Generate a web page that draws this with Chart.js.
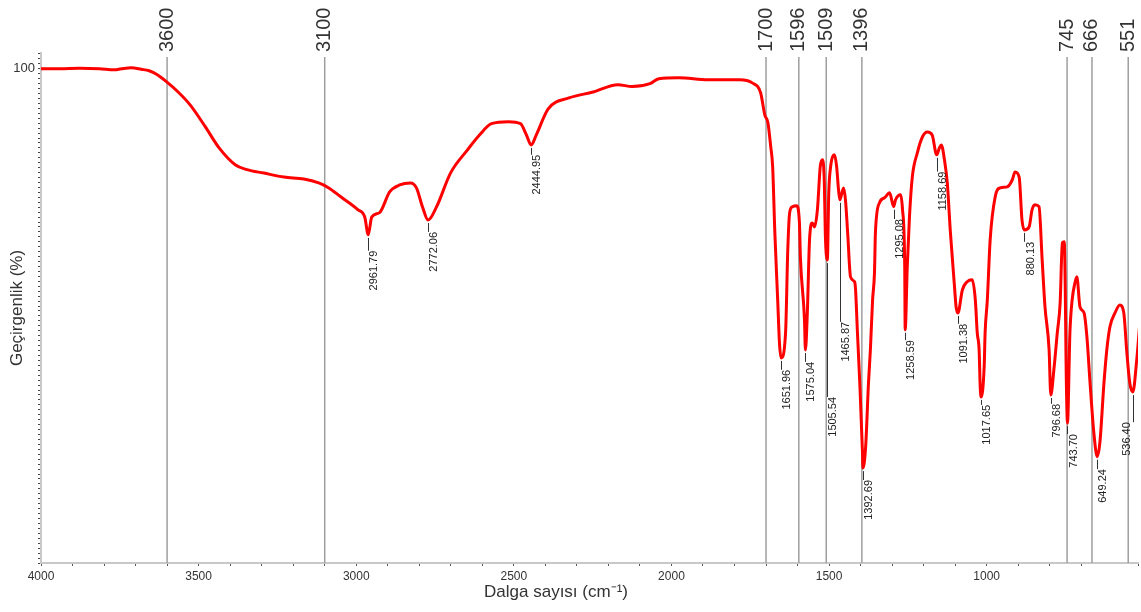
<!DOCTYPE html>
<html>
<head>
<meta charset="utf-8">
<script src="https://cdn.jsdelivr.net/npm/chart.js@4/dist/chart.umd.min.js"></script>
<style>
  html, body { margin: 0; padding: 0; background: #fff; }
  #wrap { width: 1141px; height: 612px; }
</style>
</head>
<body>
<div id="wrap"><canvas id="myChart"></canvas></div>
<script>
// FTIR spectrum, wavenumber (cm-1) vs transmittance (%)
const waveNum = [
  4000, 3941, 3878, 3815, 3767, 3745, 3714, 3682, 3657, 3631,
  3606, 3565, 3527, 3479, 3435, 3384, 3347, 3293, 3229, 3166,
  3119, 3087, 3049, 2995, 2973, 2961.79, 2951, 2926, 2894, 2862,
  2828, 2809, 2790, 2772.06, 2745, 2701, 2647, 2609, 2571, 2517,
  2479, 2460, 2444.95, 2429, 2391, 2325, 2249, 2170, 2125, 2068,
  2040, 1977, 1884, 1783, 1745, 1717, 1704, 1694, 1685, 1679,
  1672, 1663, 1657, 1651.96, 1638, 1631, 1625, 1616, 1603, 1594,
  1591, 1578, 1575.04, 1569, 1562, 1553, 1546, 1537, 1528, 1521,
  1515, 1512, 1505.54, 1501, 1495, 1483, 1476, 1470, 1465.87, 1454,
  1448, 1441, 1432, 1419, 1416, 1410, 1403, 1394, 1392.69, 1384,
  1375, 1369, 1362, 1356, 1353, 1340, 1324, 1308, 1295.08, 1289,
  1273, 1267, 1260, 1258.59, 1252, 1245, 1236, 1220, 1204, 1188,
  1173, 1158.69, 1150, 1144, 1134, 1125, 1115, 1103, 1097, 1091.38,
  1077, 1062, 1046, 1036, 1030, 1024, 1020.5, 1017.65, 1008, 1005,
  998, 989, 973, 957, 935, 919, 910, 897, 888, 880.13,
  865.5, 856, 847, 834, 824, 815, 802, 796.68, 786, 776,
  767, 760, 754, 751, 748, 743.70, 736, 729, 720, 714,
  704, 691, 682, 672, 660, 649.24, 641, 628, 619, 609,
  593, 577.5, 565, 556, 546, 536.40, 524, 515
];
const transm = [
  100.0, 100.0, 100.1, 100.0, 99.8, 100.0, 100.2, 99.9, 99.6, 98.8,
  97.6, 95.3, 92.7, 88.3, 84.0, 80.6, 79.6, 78.9, 78.1, 77.7,
  76.9, 75.9, 74.1, 71.5, 70.0, 66.4, 70.0, 70.9, 75.1, 76.5,
  76.9, 75.9, 72.1, 69.4, 72.1, 78.9, 83.6, 86.6, 88.9, 89.3,
  88.9, 86.6, 84.6, 86.6, 91.9, 94.1, 95.3, 96.8, 96.4, 97.0,
  98.0, 98.2, 97.8, 97.8, 97.2, 95.1, 90.7, 89.1, 84.2, 80.2,
  66.8, 53.2, 44.1, 41.5, 46.6, 63.4, 70.9, 72.1, 72.3, 68.8,
  61.9, 49.2, 43.1, 50.6, 65.4, 68.8, 68.0, 71.5, 80.2, 81.6,
  76.9, 66.8, 61.3, 74.9, 80.2, 82.6, 80.2, 75.5, 73.5, 75.9,
  73.5, 66.8, 57.9, 56.9, 55.3, 46.6, 37.0, 22.3, 19.2, 23.5,
  36.4, 43.1, 53.2, 58.7, 66.8, 72.9, 73.9, 74.9, 72.1, 73.5,
  74.5, 71.5, 59.9, 47.2, 59.9, 70.0, 78.1, 83.0, 86.2, 87.2,
  86.6, 82.6, 84.0, 84.6, 81.6, 76.9, 66.8, 56.7, 51.8, 50.6,
  55.3, 56.9, 57.3, 53.2, 46.6, 43.1, 35.6, 33.6, 39.7, 46.6,
  53.2, 65.4, 74.1, 75.9, 76.1, 77.5, 79.1, 78.1, 69.4, 67.4,
  68.0, 71.5, 72.5, 72.1, 61.3, 51.8, 43.1, 34.0, 39.7, 46.6,
  52.6, 64.8, 65.0, 56.7, 39.7, 28.3, 46.6, 53.2, 56.7, 57.9,
  51.8, 50.6, 45.7, 36.4, 26.3, 21.5, 24.3, 36.4, 43.1, 47.8,
  50.6, 52.2, 50.6, 43.1, 36.4, 34.6, 41.1, 48.0
];

// marked bands (grey vertical lines)
const refLines = [3600, 3100, 1700, 1596, 1509, 1396, 745, 666, 551];

// peak picks
const peakWn = [2961.79, 2772.06, 2444.95, 1651.96, 1575.04, 1505.54, 1465.87, 1392.69, 1295.08,
  1258.59, 1158.69, 1091.38, 1017.65, 880.13, 796.68, 743.70, 649.24, 536.40];
const peakText = ['2961.79', '2772.06', '2444.95', '1651.96', '1575.04', '1505.54', '1465.87', '1392.69', '1295.08',
  '1258.59', '1158.69', '1091.38', '1017.65', '880.13', '796.68', '743.70', '649.24', '536.40'];
// transmittance level where each pick label starts
const peakLabelT = [63.6, 67.4, 83.0, 39.5, 41.1, 34.0, 49.2, 17.2, 70.0,
  45.5, 79.6, 48.8, 32.4, 65.4, 32.6, 26.5, 19.4, 28.9];

const fontFam = '"Liberation Sans", Arial, sans-serif';

const markers = {
  id: 'markers',
  beforeDatasetsDraw(chart) {
    const { ctx, chartArea, scales: { x } } = chart;
    ctx.save();
    ctx.strokeStyle = '#9e9e9e';
    ctx.lineWidth = 1.5;
    refLines.forEach(v => {
      const px = x.getPixelForValue(v);
      ctx.beginPath();
      ctx.moveTo(px, chartArea.top + 4);
      ctx.lineTo(px, chartArea.bottom);
      ctx.stroke();
    });
    ctx.restore();
  },
  afterDatasetsDraw(chart) {
    const { ctx, chartArea, scales: { x, y } } = chart;
    ctx.save();
    // band labels above the plot
    ctx.fillStyle = '#333';
    ctx.font = '20px ' + fontFam;
    refLines.forEach(v => {
      ctx.save();
      ctx.translate(x.getPixelForValue(v), chartArea.top - 1);
      ctx.rotate(-Math.PI / 2);
      ctx.textAlign = 'left';
      ctx.textBaseline = 'middle';
      ctx.fillText(String(v), 0, 0);
      ctx.restore();
    });
    // peak picks
    ctx.font = '11px ' + fontFam;
    ctx.fillStyle = '#222';
    ctx.strokeStyle = '#333';
    ctx.lineWidth = 1;
    peakWn.forEach((wn, i) => {
      const px = x.getPixelForValue(wn);
      const py = y.getPixelForValue(transm[waveNum.indexOf(wn)]);
      const ly = y.getPixelForValue(peakLabelT[i]);
      ctx.beginPath();
      ctx.moveTo(Math.round(px) + 0.5, py + 3);
      ctx.lineTo(Math.round(px) + 0.5, ly + 2);
      ctx.stroke();
      let tx = px + 6;
      if (tx + 6 > chartArea.right) tx = px - 6;
      ctx.save();
      ctx.translate(tx, ly + 2);
      ctx.rotate(-Math.PI / 2);
      ctx.textAlign = 'right';
      ctx.textBaseline = 'middle';
      ctx.fillText(peakText[i], 0, 0);
      ctx.restore();
    });
    ctx.restore();
  },
  afterDraw(chart) {
    const { ctx } = chart;
    ctx.save();
    ctx.fillStyle = '#333';
    ctx.font = '17px ' + fontFam;
    ctx.textAlign = 'center';
    ctx.textBaseline = 'middle';
    ctx.fillText('Dalga sayısı (cm⁻¹)', 556, 592);
    ctx.restore();
  }
};

const ctx = document.getElementById('myChart');

new Chart(ctx, {
  type: 'line',
  data: {
    datasets: [{
      label: 'Spektrum',
      data: waveNum.map((w, i) => ({ x: w, y: transm[i] })),
      borderColor: '#ff0000',
      borderWidth: 3,
      pointRadius: 0,
      cubicInterpolationMode: 'monotone',
      fill: false
    }]
  },
  options: {
    responsive: true,
    maintainAspectRatio: false,
    animation: false,
    layout: { padding: { top: 53, left: 0, right: 0, bottom: 0 } },
    plugins: {
      legend: { display: false },
      tooltip: { enabled: false }
    },
    scales: {
      x: {
        type: 'linear',
        reverse: true,
        min: 520,
        max: 4000,
        afterFit: (scale) => { scale.height = 49; },
        border: { display: true, color: '#c8c8c8', width: 2 },
        grid: { drawOnChartArea: false, drawTicks: true, tickLength: 3, tickColor: '#555' },
        ticks: {
          stepSize: 100,
          autoSkip: false,
          maxRotation: 0,
          padding: 3,
          color: '#333',
          font: { family: fontFam, size: 12 },
          callback: (v) => (v % 500 === 0 ? String(v) : '')
        }
      },
      y: {
        min: 0,
        max: 103.2,
        afterFit: (scale) => { scale.width = 41; },
        border: { display: true, color: '#c8c8c8', width: 2 },
        grid: { drawOnChartArea: false, drawTicks: true, tickLength: 3, tickColor: '#444' },
        title: {
          display: true,
          text: 'Geçirgenlik (%)',
          color: '#333',
          font: { family: fontFam, size: 17 },
          padding: { top: 7, bottom: 0 }
        },
        ticks: {
          stepSize: 1,
          autoSkip: false,
          padding: 3,
          color: '#333',
          font: { family: fontFam, size: 13 },
          callback: (v) => (v === 100 ? '100' : '')
        }
      }
    }
  },
  plugins: [markers]
});
</script>
</body>
</html>
